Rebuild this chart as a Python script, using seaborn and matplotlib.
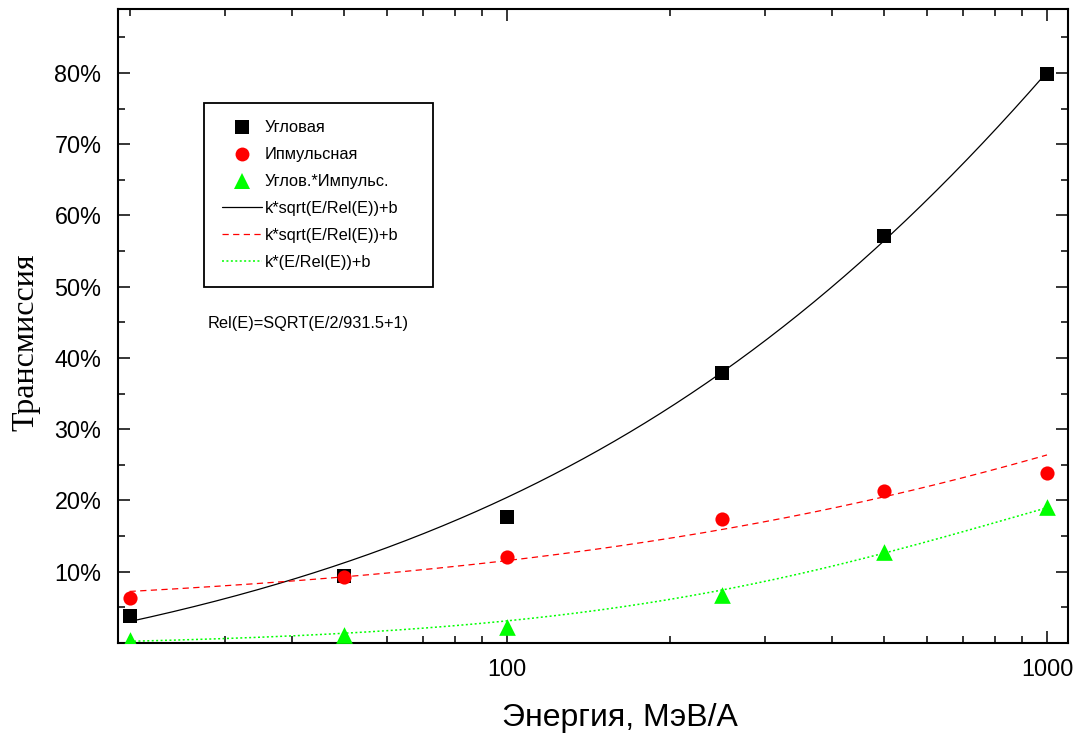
import numpy as np
import pandas as pd
import matplotlib
matplotlib.use("Agg")
import matplotlib.pyplot as plt
from matplotlib.lines import Line2D
from matplotlib.ticker import FixedLocator, MultipleLocator, FuncFormatter, NullFormatter
import seaborn as sns

# ---------------- data ----------------
energy = [20, 50, 100, 250, 500, 1000]                 # MeV/A
uglovaya = [3.8, 9.4, 17.7, 37.9, 57.1, 79.8]          # %  black squares
impulsnaya = [6.3, 9.3, 12.1, 17.4, 21.3, 23.8]        # %  red circles
uglov_impuls = [0.4, 1.1, 2.2, 6.7, 12.8, 19.1]        # %  green triangles

labels = ["Угловая", "Ипмульсная", "Углов.*Импульс.",
          "k*sqrt(E/Rel(E))+b", "k*sqrt(E/Rel(E))+b", "k*(E/Rel(E))+b"]
note = "Rel(E)=SQRT(E/2/931.5+1)"
y_ticks = [10, 20, 30, 40, 50, 60, 70, 80]
x_ticks = [100, 1000]

# fitted parameters (k, b)
fit_black = (3.22, -11.35)
fit_red = (0.80, 3.67)
fit_green = (0.0405, -0.55)

# ---------------- figure ----------------
sns.set_style("ticks")
plt.rcParams["font.family"] = ["Liberation Sans", "DejaVu Sans"]
plt.rcParams.update({"text.color": "black", "axes.labelcolor": "black",
                     "xtick.color": "black", "ytick.color": "black",
                     "axes.edgecolor": "black"})

fig = plt.figure(figsize=(10.76, 7.42), dpi=100)
ax = fig.add_axes([0.1097, 0.1334, 0.8829, 0.8538])

e_grid = np.geomspace(energy[0], energy[-1], 300)
rel = np.sqrt(e_grid / 2 / 931.5 + 1)
h_sqrt = np.sqrt(e_grid / rel)
h_lin = e_grid / (1 + e_grid / 931.5)

sns.lineplot(x=e_grid, y=fit_black[0] * h_sqrt + fit_black[1], ax=ax,
             color="black", linewidth=0.9, linestyle="-", sort=False)
sns.lineplot(x=e_grid, y=fit_red[0] * h_sqrt + fit_red[1], ax=ax,
             color="#ff0000", linewidth=0.9, linestyle=(0, (5, 3.5)), sort=False)
sns.lineplot(x=e_grid, y=fit_green[0] * h_lin + fit_green[1], ax=ax,
             color="#00ff00", linewidth=1.1, linestyle=(0, (1.3, 1.6)), sort=False)

sns.scatterplot(x=energy, y=uglovaya, ax=ax, marker="s", color="black",
                s=9.6 ** 2, linewidth=0, zorder=5)
sns.scatterplot(x=energy, y=impulsnaya, ax=ax, marker="o", color="#ff0000",
                s=10.2 ** 2, linewidth=0, zorder=5)
sns.scatterplot(x=energy, y=uglov_impuls, ax=ax, marker="^", color="#00ff00",
                s=12 ** 2, linewidth=0, zorder=5)

ax.set_xscale("log")
ax.set_xlim(19.04, 1094)
ax.set_ylim(0, 88.9)

ax.xaxis.set_major_locator(FixedLocator(x_ticks))
ax.xaxis.set_major_formatter(FuncFormatter(lambda v, p: f"{v:.0f}"))
ax.xaxis.set_minor_locator(FixedLocator(
    [v * d for d in (10, 100) for v in range(2, 10)]))
ax.xaxis.set_minor_formatter(NullFormatter())

ax.yaxis.set_major_locator(FixedLocator(y_ticks))
ax.yaxis.set_major_formatter(FuncFormatter(lambda v, p: f"{v:.0f}%"))
ax.yaxis.set_minor_locator(MultipleLocator(5))

for s in ax.spines.values():
    s.set_linewidth(1.5)
    s.set_visible(True)
    s.set_color("black")
ax.tick_params(which="both", direction="in", top=True, right=True,
               width=1.1, color="black", labelcolor="black")
ax.tick_params(which="major", length=8.8, labelsize=16.8, pad=11)
ax.tick_params(which="minor", length=5.2)
ax.tick_params(axis="y", which="major", pad=12)

ax.set_xlabel("Энергия, МэВ/А", fontsize=23)
ax.xaxis.set_label_coords(0.528, -0.094)
ax.set_ylabel("Трансмиссия", fontsize=23,
              family=["Liberation Serif", "DejaVu Serif"])
ax.yaxis.set_label_coords(-0.082, 0.475)

handles = [
    Line2D([], [], marker="s", color="black", linestyle="none", markersize=9.4, markeredgewidth=0),
    Line2D([], [], marker="o", color="#ff0000", linestyle="none", markersize=10, markeredgewidth=0),
    Line2D([], [], marker="^", color="#00ff00", linestyle="none", markersize=12, markeredgewidth=0),
    Line2D([], [], color="black", linewidth=0.9),
    Line2D([], [], color="#ff0000", linewidth=0.9, linestyle=(0, (5, 3.5))),
    Line2D([], [], color="#00ff00", linewidth=1.1, linestyle=(0, (1.3, 1.6))),
]
leg = ax.legend(handles, labels, loc="upper left",
                bbox_to_anchor=(0.0905, 0.0, 0.241, 0.8525), mode="expand",
                borderaxespad=0, fontsize=11.8, frameon=True, fancybox=False,
                borderpad=1.07, labelspacing=0.725, handlelength=2.44,
                handletextpad=0.2)
frame = leg.get_frame()
frame.set_edgecolor("black")
frame.set_linewidth(1.3)
frame.set_alpha(1)

ax.text(0.0947, 0.505, note, transform=ax.transAxes, fontsize=11.8,
        va="center", ha="left")

fig.savefig("out.png", dpi=100)
